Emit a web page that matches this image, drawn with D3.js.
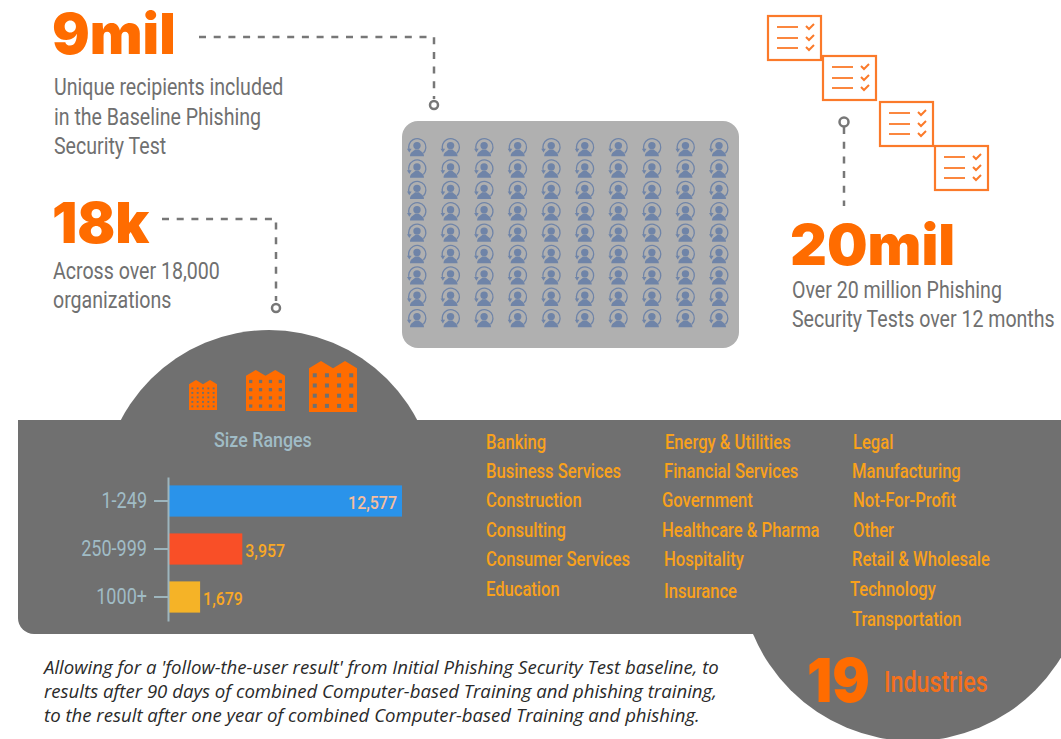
<!DOCTYPE html>
<html>
<head>
<meta charset="utf-8">
<title>Phishing baseline infographic</title>
<script src="https://d3js.org/d3.v7.min.js"></script>
<style>
  body { margin: 0; background: #fff; overflow: hidden; }
  svg { display: block; }
  .axis .domain, .axis line { stroke: #9db5bd; stroke-width: 2; }
  .axis text { fill: #a0bcc6; font-family: Roboto, sans-serif; font-size: 22px; }
</style>
</head>
<body>
<svg id="chart" width="1061" height="739"></svg>
<script>
// chart values
const sizeRanges = ["1-249", "250-999", "1000+"];
const orgCounts = [12577, 3957, 1679];
const barColors = ["#2a93ea", "#f94f27", "#f5b327"];
const valueColors = ["#f7bd9c", "#f9a825", "#f9a825"];

const industriesA = ["Banking", "Business Services", "Construction", "Consulting", "Consumer Services", "Education"];
const industriesB = ["Energy & Utilities", "Financial Services", "Government", "Healthcare & Pharma", "Hospitality", "Insurance"];
const industriesC = ["Legal", "Manufacturing", "Not-For-Profit", "Other", "Retail & Wholesale", "Technology", "Transportation"];

const noteLines = [
  "Allowing for a 'follow-the-user result' from Initial Phishing Security Test baseline, to",
  "results after 90 days of combined Computer-based Training and phishing training,",
  "to the result after one year of combined Computer-based Training and phishing."
];

const orange = "#ff6c00";
const grey = "#707070";
const listOrange = "#f9a11b";

const svg = d3.select("#chart");

// roboto squeezed sideways, the original is a condensed face
function narrow(str, x, y, size, fill, weight, sx) {
  return svg.append("text")
    .attr("transform", `translate(${x},${y}) scale(${sx || 0.816},1)`)
    .attr("font-family", "Roboto, sans-serif")
    .attr("font-size", size)
    .attr("font-weight", weight || 400)
    .attr("fill", fill)
    .text(str);
}

function bigNumber(str, x, y, size, sx) {
  return svg.append("text")
    .attr("transform", `translate(${x},${y}) scale(${sx},1)`)
    .attr("font-family", "Inter, sans-serif")
    .attr("font-size", size)
    .attr("font-weight", 900)
    .attr("fill", orange)
    .text(str);
}

function connector(d) {
  svg.append("path").attr("d", d)
    .attr("fill", "none")
    .attr("stroke", "#777")
    .attr("stroke-width", 2.5)
    .attr("stroke-dasharray", "7 7.7");
}

function ring(x, y, r) {
  svg.append("circle").attr("cx", x).attr("cy", y).attr("r", r)
    .attr("fill", "none").attr("stroke", "#777").attr("stroke-width", 2.5);
}

// grey shapes first, the two round parts only show outside the band
const defs = svg.append("defs");
defs.append("clipPath").attr("id", "above").append("rect")
  .attr("width", 1061).attr("height", 421);
defs.append("clipPath").attr("id", "below").append("rect")
  .attr("x", 700).attr("y", 633).attr("width", 361).attr("height", 106);

svg.append("circle").attr("cx", 269).attr("cy", 497).attr("r", 167)
  .attr("fill", grey).attr("clip-path", "url(#above)");
svg.append("circle").attr("cx", 913).attr("cy", 568).attr("r", 173)
  .attr("fill", grey).attr("clip-path", "url(#below)");
svg.append("path")
  .attr("d", "M18,420H1061V634H34A16,16 0 0 1 18,618Z")
  .attr("fill", grey);

// people panel
svg.append("rect")
  .attr("x", 402).attr("y", 121).attr("width", 337).attr("height", 227)
  .attr("rx", 16).attr("fill", "#b0b0b0");

const peopleX = d3.scalePoint().domain(d3.range(10)).range([417, 719]);
const peopleY = d3.scalePoint().domain(d3.range(9)).range([147, 318]);
const person = svg.append("g").selectAll("g")
  .data(d3.cross(d3.range(10), d3.range(9)))
  .join("g")
  .attr("transform", d => `translate(${peopleX(d[0])},${peopleY(d[1])})`);
person.append("path")
  .attr("d", "M-7.8,3.2A8.6,8.6 0 1 1 6.4,6.2")
  .attr("fill", "none").attr("stroke", "#6f84a8").attr("stroke-width", 1.3);
person.append("path")
  .attr("d", "M-10,1.8L-5.4,1.8L-7.7,5.6Z")
  .attr("fill", "#6f84a8");
person.append("circle").attr("cy", -1.4).attr("r", 3.7).attr("fill", "#6f84a8");
person.append("path")
  .attr("d", "M-7,9.3C-7,5 -3.5,4.5 -2,2.5L2,2.5C3.5,4.5 7,5 7,9.3Z")
  .attr("fill", "#6f84a8");

// top left callouts
bigNumber("9mil", 52, 54, 56, 1);
connector("M199,37H434V99");
ring(434, 105, 4);
["Unique recipients included", "in the Baseline Phishing", "Security Test"].forEach((t, i) => {
  narrow(t, 54, [95, 125, 154][i], 24, grey);
});

bigNumber("18k", 52, 243, 56, 1);
connector("M162,219H276V301");
ring(276, 308, 4);
["Across over 18,000", "organizations"].forEach((t, i) => {
  narrow(t, 53, [279, 308][i], 24, grey);
});

// checklists
const listBoxes = [[768, 16], [823, 56], [880, 102], [935, 146]];
listBoxes.forEach(b => {
  const g = svg.append("g").attr("transform", `translate(${b[0]},${b[1]})`);
  g.append("rect").attr("width", 53).attr("height", 44)
    .attr("fill", "#fff").attr("stroke", "#fb7a2a").attr("stroke-width", 2.2);
  [11, 22, 32].forEach(y => {
    g.append("line").attr("x1", 9).attr("x2", 30).attr("y1", y).attr("y2", y)
      .attr("stroke", "#fb7a2a").attr("stroke-width", 1.8);
    g.append("path").attr("d", `M38,${y - 1}L41,${y + 2}L46,${y - 3}`)
      .attr("fill", "none").attr("stroke", "#fb7a2a").attr("stroke-width", 2);
  });
});
ring(844, 122, 4.5);
connector("M844,127V206");
bigNumber("20mil", 790, 265, 56, 1.02);
["Over 20 million Phishing", "Security Tests over 12 months"].forEach((t, i) => {
  narrow(t, 792, [298, 327][i], 24, grey);
});

// buildings
function building(x, y, w, h, cols, rows) {
  const g = svg.append("g").attr("transform", `translate(${x},${y})`);
  const gable = h * 0.14;
  g.append("path")
    .attr("d", `M0,${gable}L${w * 0.25},0L${w * 0.5},${gable}L${w * 0.75},0L${w},${gable}V${h}H0Z`)
    .attr("fill", orange);
  const wx = d3.scalePoint().domain(d3.range(cols)).range([w * 0.12, w * 0.88]);
  const wy = d3.scalePoint().domain(d3.range(rows)).range([h * 0.28, h * 0.88]);
  const s = w / (cols * 3);
  g.selectAll("rect")
    .data(d3.cross(d3.range(cols), d3.range(rows)))
    .join("rect")
    .attr("x", d => wx(d[0]) - s / 2)
    .attr("y", d => wy(d[1]) - s / 2)
    .attr("width", s).attr("height", s)
    .attr("fill", grey);
}
building(189, 380, 28, 30, 5, 5);
building(246, 370, 39, 41, 4, 4);
building(309, 361, 48, 51, 4, 4);

narrow("Size Ranges", 214, 447, 21, "#a0bcc6", 500, 0.85);

// bars
const x = d3.scaleLinear().domain([0, d3.max(orgCounts)]).range([169, 402]);
const y = d3.scaleBand().domain(sizeRanges).range([477, 621]).paddingInner(0.35).paddingOuter(0.175);

const rows = d3.zip(sizeRanges, orgCounts, barColors, valueColors);

svg.selectAll("rect.bar")
  .data(rows)
  .join("rect")
  .attr("class", "bar")
  .attr("x", x(0))
  .attr("y", d => y(d[0]))
  .attr("width", d => x(d[1]) - x(0))
  .attr("height", y.bandwidth())
  .attr("fill", d => d[2]);

const axis = svg.append("g")
  .attr("class", "axis")
  .attr("transform", "translate(168,0)")
  .call(d3.axisLeft(y).tickSize(14).tickSizeOuter(0).tickPadding(7));
axis.selectAll("text")
  .attr("x", -21 / 0.82)
  .attr("transform", "scale(0.82,1)");

svg.selectAll("text.value")
  .data(rows)
  .join("text")
  .attr("class", "value")
  .attr("font-family", "Roboto, sans-serif")
  .attr("font-size", 19)
  .attr("font-weight", 500)
  .attr("fill", d => d[3])
  .attr("text-anchor", (d, i) => i === 0 ? "end" : "start")
  .attr("transform", (d, i) => {
    const px = i === 0 ? x(d[1]) - 5 : x(d[1]) + 3;
    return `translate(${px},${y(d[0]) + y.bandwidth() / 2 + 8}) scale(0.84,1)`;
  })
  .text(d => d3.format(",")(d[1]));

// industries, the columns wander a little in the original
const colAX = [486, 486, 486, 486, 486, 486];
const colAY = [449, 478, 507, 537, 566, 596];
const colBX = [665, 664, 662, 662, 664, 664];
const colBY = [449, 478, 507, 537, 566, 598];
const colCX = [853, 852, 853, 853, 852, 850, 852];
const colCY = [449, 478, 507, 537, 566, 596, 626];

industriesA.forEach((t, i) => narrow(t, colAX[i], colAY[i], 21, listOrange, 500, 0.79));
industriesB.forEach((t, i) => narrow(t, colBX[i], colBY[i], 21, listOrange, 500, 0.79));
industriesC.forEach((t, i) => narrow(t, colCX[i], colCY[i], 21, listOrange, 500, 0.79));

bigNumber("19", 807, 702, 60, 0.93);
narrow("Industries", 884, 692, 29, "#f5701b", 500, 0.8);

// footnote
noteLines.forEach((t, i) => {
  svg.append("text")
    .attr("x", 44)
    .attr("y", [674, 698, 722][i])
    .attr("font-family", "'Open Sans', sans-serif")
    .attr("font-style", "italic")
    .attr("font-size", 18.6)
    .attr("fill", "#2a2a2a")
    .text(t);
});
</script>
</body>
</html>
